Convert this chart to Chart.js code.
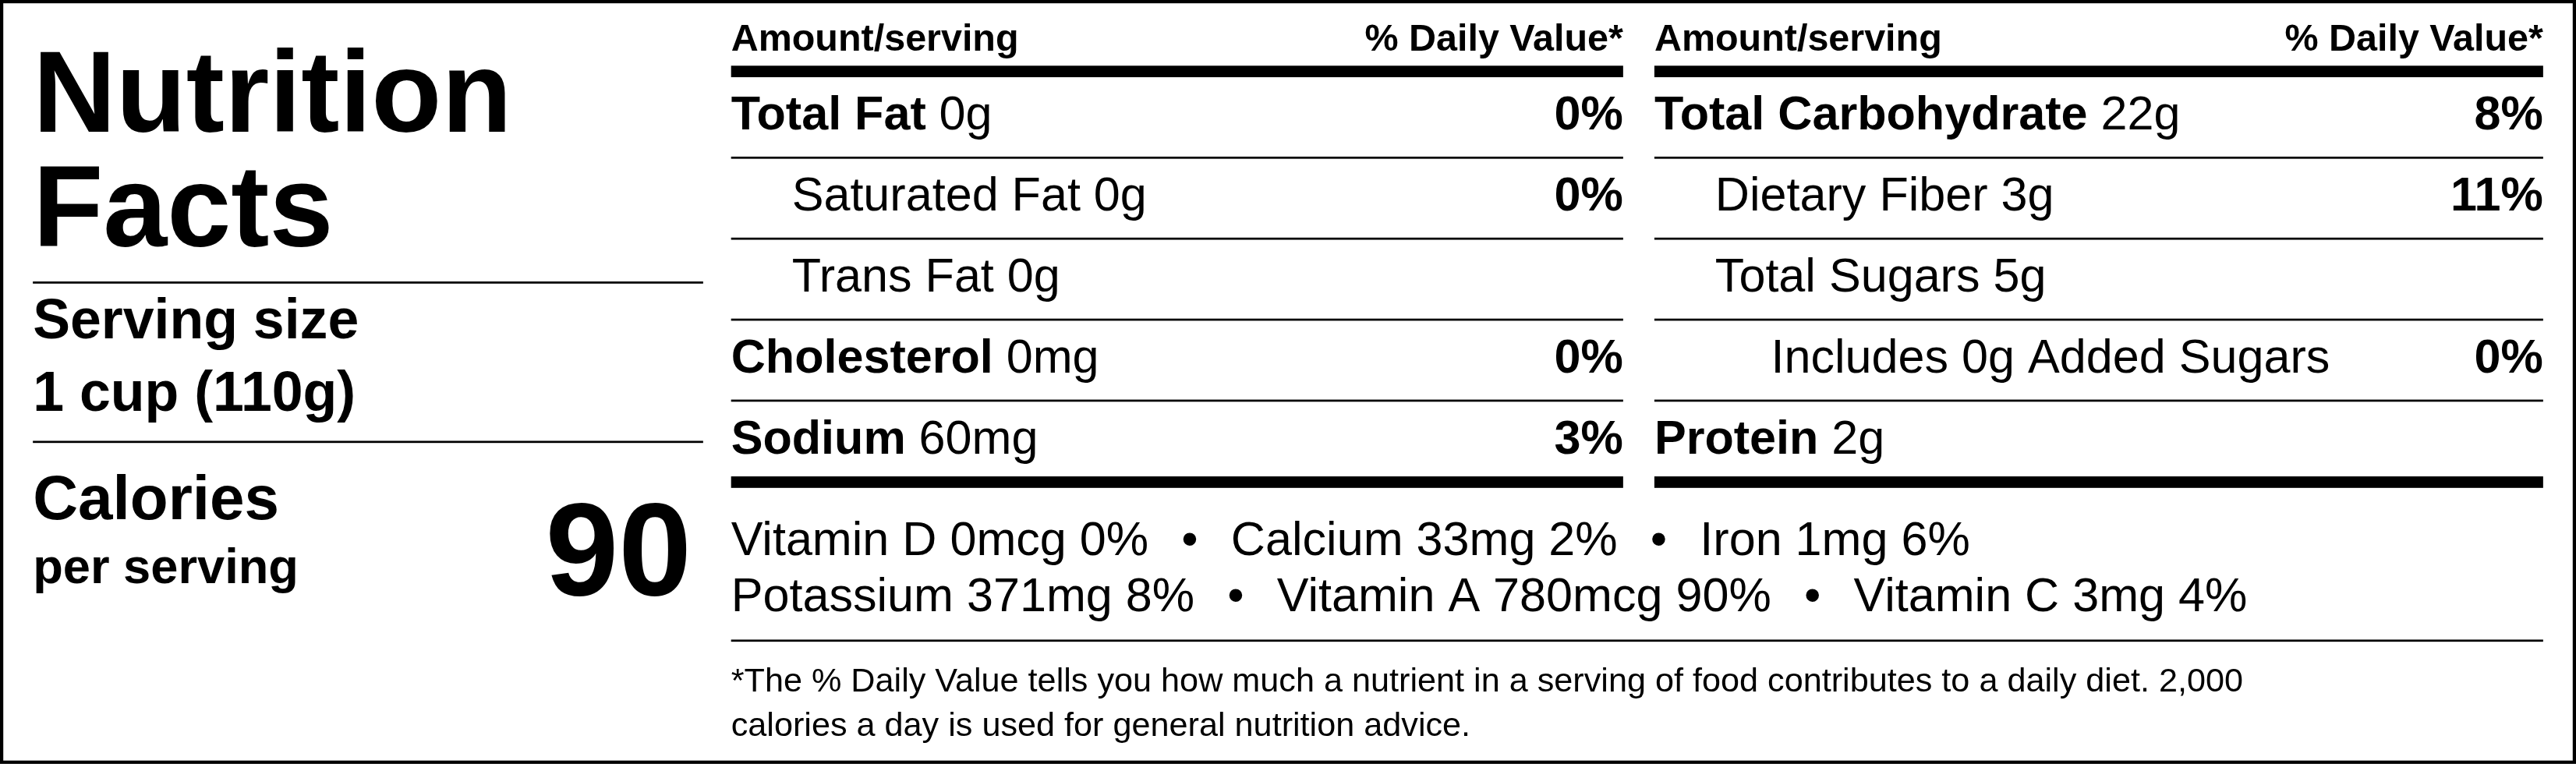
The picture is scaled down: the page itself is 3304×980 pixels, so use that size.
<!DOCTYPE html>
<html>
<head>
<meta charset="utf-8">
<script src="https://cdn.jsdelivr.net/npm/chart.js@4.4.1/dist/chart.umd.min.js"></script>
<style>
  html, body { margin: 0; padding: 0; background: #fff; }
  #wrap { width: 3304px; height: 980px; }
</style>
</head>
<body>
<div id="wrap"><canvas id="label"></canvas></div>
<script>
// label content
const titleLines = ['Nutrition', 'Facts'];
const servingLines = ['Serving size', '1 cup (110g)'];
const calories = 90;

// [bold name, amount, % daily value, indent level]
const leftRows = [
    ['Total Fat', '0g', '0%', 0],
    ['Saturated Fat', '0g', '0%', 1],
    ['Trans Fat', '0g', '', 1],
    ['Cholesterol', '0mg', '0%', 0],
    ['Sodium', '60mg', '3%', 0],
];
const rightRows = [
    ['Total Carbohydrate', '22g', '8%', 0],
    ['Dietary Fiber', '3g', '11%', 1],
    ['Total Sugars', '5g', '', 1],
    ['Includes 0g Added Sugars', '', '0%', 2],
    ['Protein', '2g', '', 0],
];
const vitaminLines = [
    ['Vitamin D 0mcg 0%', 'Calcium 33mg 2%', 'Iron 1mg 6%'],
    ['Potassium 371mg 8%', 'Vitamin A 780mcg 90%', 'Vitamin C 3mg 4%'],
];
const footnoteLines = [
    '*The % Daily Value tells you how much a nutrient in a serving of food contributes to a daily diet. 2,000',
    'calories a day is used for general nutrition advice.',
];

const FONT = '"Liberation Sans", Arial, Helvetica, sans-serif';
const S = 3304 / 1568;

function font(size, bold) {
    return (bold ? 'bold ' : '') + size + 'px ' + FONT;
}

function hline(ctx, x1, x2, y, w) {
    ctx.fillRect(x1, y - w / 2, x2 - x1, w);
}

function drawColumn(ctx, rows, x1, x2) {
    ctx.font = font(23, true);
    ctx.textAlign = 'left';
    ctx.fillText('Amount/serving', x1, 31);
    ctx.textAlign = 'right';
    ctx.fillText('% Daily Value*', x2, 31);
    hline(ctx, x1, x2, 43.5, 7);
    rows.forEach((r, i) => {
        const y = 79 + i * 49.3;
        const indent = [0, 37, 71][r[3]];
        ctx.textAlign = 'left';
        let x = x1 + indent;
        if (r[3] === 0) {
            ctx.font = font(29, true);
            ctx.fillText(r[0], x, y);
            x += ctx.measureText(r[0]).width + 8;
            ctx.font = font(29, false);
            ctx.fillText(r[1], x, y);
        } else {
            ctx.font = font(29, false);
            ctx.fillText(r[0] + (r[1] ? ' ' + r[1] : ''), x, y);
        }
        if (r[2]) {
            ctx.font = font(29, true);
            ctx.textAlign = 'right';
            ctx.fillText(r[2], x2, y);
        }
        if (i < rows.length - 1) hline(ctx, x1, x2, y + 17, 1.3);
    });
    hline(ctx, x1, x2, 293.5, 7);
}

const labelPlugin = {
    id: 'nutritionLabel',
    afterDraw(chart) {
        const ctx = chart.ctx;
        ctx.save();
        ctx.scale(S, S);
        ctx.fillStyle = '#000';
        ctx.textBaseline = 'alphabetic';

        // border
        ctx.lineWidth = 2;
        ctx.strokeStyle = '#000';
        ctx.strokeRect(1, 1, 1566, 463);

        // left block
        ctx.textAlign = 'left';
        ctx.font = font(70, true);
        ctx.fillText(titleLines[0], 20, 80);
        ctx.fillText(titleLines[1], 20, 150);
        hline(ctx, 20, 428, 172, 1.3);
        ctx.font = font(34, true);
        ctx.fillText(servingLines[0], 20, 206);
        ctx.fillText(servingLines[1], 20, 250);
        hline(ctx, 20, 428, 269, 1.3);
        ctx.font = font(38, true);
        ctx.fillText('Calories', 20, 316);
        ctx.font = font(30, true);
        ctx.fillText('per serving', 20, 355);
        ctx.font = font(80, true);
        ctx.textAlign = 'right';
        ctx.fillText(String(calories), 421, 362);

        drawColumn(ctx, leftRows, 445, 988);
        drawColumn(ctx, rightRows, 1007, 1548);

        // vitamins
        ctx.textAlign = 'left';
        ctx.font = font(29, false);
        vitaminLines.forEach((line, i) => {
            const y = 338 + i * 34;
            let x = 445;
            line.forEach((part, j) => {
                if (j > 0) {
                    x += 20;
                    ctx.fillText('\u2022', x, y);
                    x += ctx.measureText('\u2022').width + 20;
                }
                ctx.fillText(part, x, y);
                x += ctx.measureText(part).width;
            });
        });
        hline(ctx, 445, 1548, 390, 1.3);

        ctx.font = font(20.5, false);
        footnoteLines.forEach((line, i) => {
            ctx.fillText(line, 445, 421 + i * 27);
        });
        ctx.restore();
    }
};

function init() {
    new Chart(document.getElementById('label'), {
        type: 'bar',
        data: { labels: [], datasets: [{ data: [] }] },
        options: {
            responsive: true,
            maintainAspectRatio: false,
            devicePixelRatio: 1,
            animation: false,
            events: [],
            plugins: { legend: { display: false }, tooltip: { enabled: false } },
            scales: { x: { display: false }, y: { display: false } }
        },
        plugins: [labelPlugin]
    });
}

Promise.all([
    document.fonts.load('bold 30px "Liberation Sans"'),
    document.fonts.load('30px "Liberation Sans"'),
]).then(init, init);
</script>
</body>
</html>
